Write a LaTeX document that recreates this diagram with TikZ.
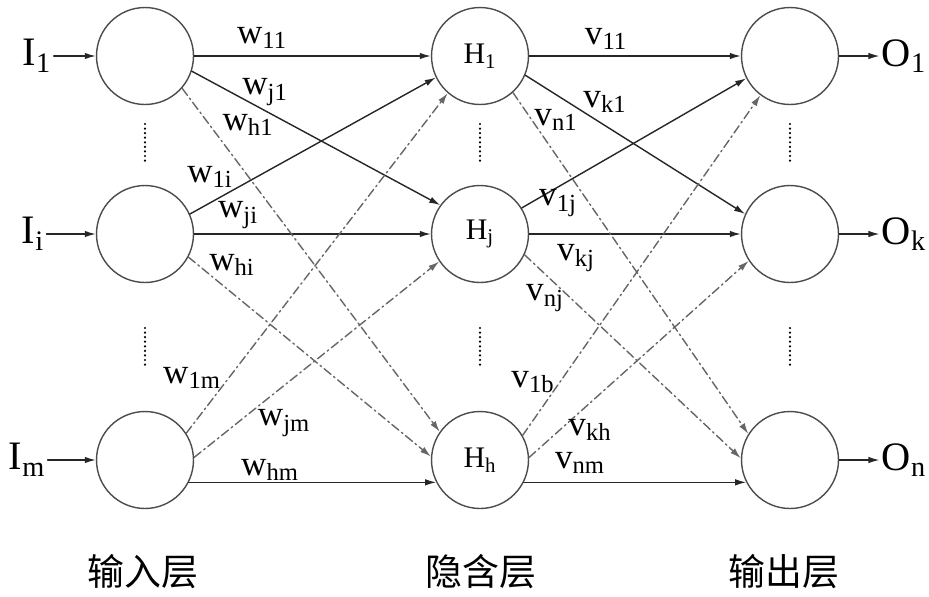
\documentclass[tikz,border=0pt]{standalone}
\usepackage{fontspec}
\setmainfont{Liberation Serif}
\newfontfamily\cjk{Noto Sans CJK SC}
\usetikzlibrary{arrows.meta}

\begin{document}
\begin{tikzpicture}[x=0.02cm, y=-0.02cm, line width=0.8pt, line cap=round, line join=round,
    neuron/.style={circle, draw=black!70, minimum size=1.94cm, inner sep=0pt, font=\fontsize{17}{17}\selectfont},
    wire/.style={draw=black!85, -{Latex[length=2.2mm, width=1.3mm]}},
    dashwire/.style={wire, draw=black!60, dash pattern=on 5pt off 2pt on 1pt off 2pt},
    vdots/.style={line width=1.4pt, dash pattern=on 0pt off 2.6pt, line cap=round},
    wlab/.style={font=\fontsize{20}{20}\selectfont, inner sep=0pt},
    iolab/.style={font=\fontsize{23}{23}\selectfont, inner sep=1pt},
    layer/.style={font=\cjk\fontsize{21}{21}\selectfont}]
    \useasboundingbox (0,0) rectangle (929,596);

    % three layers
    \node[neuron] (in1) at (145,56) {};
    \node[neuron] (ini) at (145,234) {};
    \node[neuron] (inm) at (145,460) {};
    \node[neuron] (h1) at (480,56) {H\textsubscript{1}};
    \node[neuron] (hj) at (480,234) {H\textsubscript{j}};
    \node[neuron] (hh) at (480,460) {H\textsubscript{h}};
    \node[neuron] (out1) at (790,56) {};
    \node[neuron] (outk) at (790,234) {};
    \node[neuron] (outn) at (790,460) {};

    \foreach \x in {145,480,790} {
        \draw[vdots] (\x,124) -- (\x,164);
        \draw[vdots] (\x,328) -- (\x,366);
    }

    % inputs and outputs
    \node[iolab] (lI1) at (37,56) {I\textsubscript{1}};
    \node[iolab] (lIi) at (33,234) {I\textsubscript{i}};
    \node[iolab] (lIm) at (27,460) {I\textsubscript{m}};
    \node[iolab] (lO1) at (904,56) {O\textsubscript{1}};
    \node[iolab] (lOk) at (904,234) {O\textsubscript{k}};
    \node[iolab] (lOn) at (904,460) {O\textsubscript{n}};
    \foreach \a/\b in {lI1/in1, lIi/ini, lIm/inm, out1/lO1, outk/lOk, outn/lOn}
        \draw[wire] (\a) -- (\b);

    % input -> hidden
    \foreach \a/\b in {in1/h1, in1.-18/hj.144, ini.24/h1.-154, ini/hj, inm.-27/hh.-153}
        \draw[wire] (\a) -- (\b);
    \foreach \a/\b in {in1.-41/hh.145, ini.-28/hh.176, inm.33/h1.-131, inm.3/hj.-146}
        \draw[dashwire] (\a) -- (\b);

    % hidden -> output
    \foreach \a/\b in {h1/out1, h1.-23/outk.156, hj.32/out1.-153, hj/outk, hh.-27/outn.-153}
        \draw[wire] (\a) -- (\b);
    \foreach \a/\b in {h1.-48/outn.148, hj.-25/outn.178, hh.30/out1.-127, hh.3/outk.-147}
        \draw[dashwire] (\a) -- (\b);

    % weights
    \foreach \n/\x/\y/\t in {w11/262/38/{11}, wj1/265/92/{j1}, wh1/248/125/{h1},
            w1i/210/177/{1i}, wji/238/215/{ji}, whi/232/265/{hi},
            w1m/192/378/{1m}, wjm/284/423/{jm}, whm/270/470/{hm}}
        \node[wlab] (\n) at (\x,\y) {w\textsubscript{\t}};
    \foreach \n/\x/\y/\t in {v11/606/39/{11}, vk1/605/102/{k1}, vn1/556/120/{n1},
            v1j/558/203/{1j}, vkj/576/258/{kj}, vnj/545/298/{nj},
            v1b/533/382/{1b}, vkh/590/430/{kh}, vnm/580/463/{nm}}
        \node[wlab] (\n) at (\x,\y) {v\textsubscript{\t}};

    % layer names
    \node[layer] (linput) at (143,572) {输入层};
    \node[layer] (lhidden) at (481,572) {隐含层};
    \node[layer] (loutput) at (784,572) {输出层};
\end{tikzpicture}
\end{document}
